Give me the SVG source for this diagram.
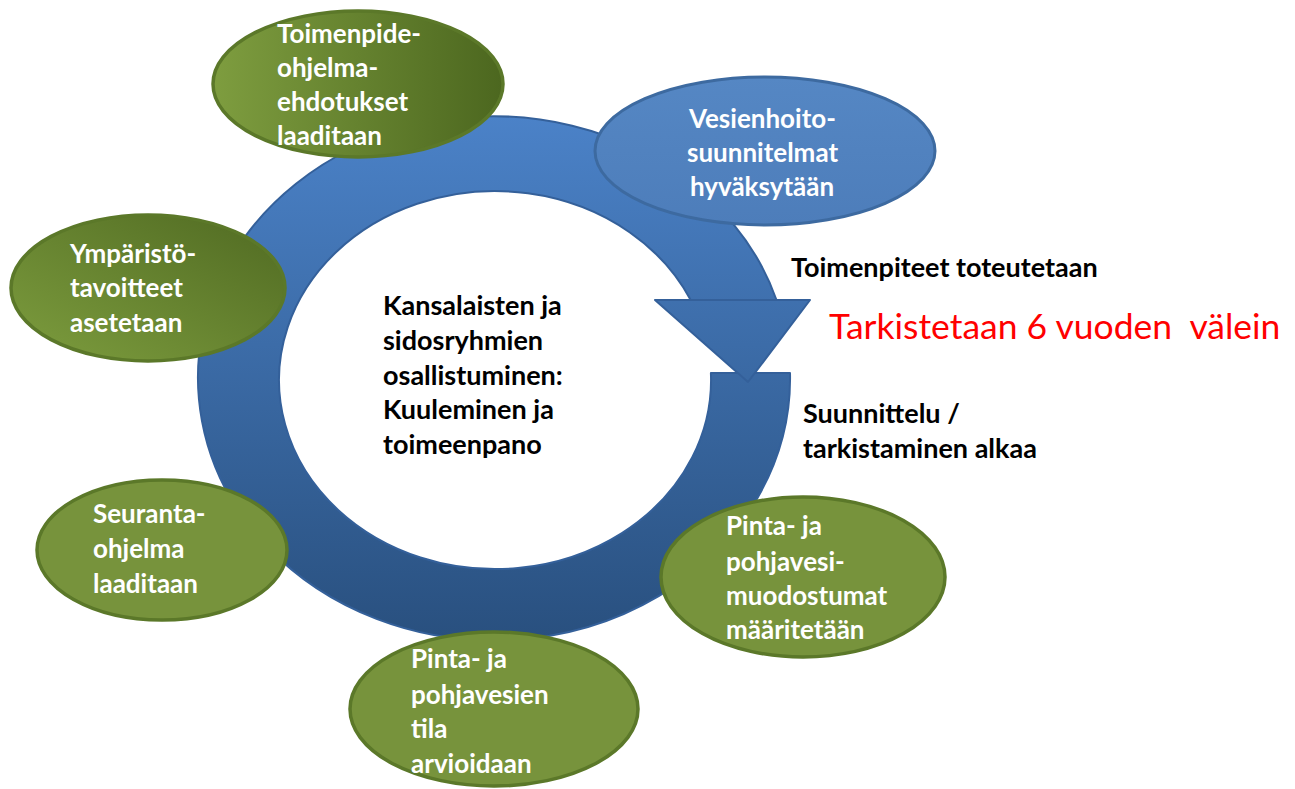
<svg xmlns="http://www.w3.org/2000/svg" width="1295" height="789" viewBox="0 0 1295 789">
<defs>
<linearGradient id="ringGrad" gradientUnits="userSpaceOnUse" x1="0" y1="115" x2="0" y2="638">
<stop offset="0" stop-color="#4b82c8"/>
<stop offset="1" stop-color="#29507f"/>
</linearGradient>
<linearGradient id="greenH" x1="0" y1="0" x2="1" y2="0">
<stop offset="0" stop-color="#7e9d3f"/>
<stop offset="1" stop-color="#4c671f"/>
</linearGradient>
<linearGradient id="greenD" x1="0" y1="1" x2="1" y2="0">
<stop offset="0" stop-color="#7d9d3e"/>
<stop offset="1" stop-color="#506a22"/>
</linearGradient>
<linearGradient id="blueE" x1="0" y1="0" x2="0" y2="1">
<stop offset="0" stop-color="#5587c4"/>
<stop offset="1" stop-color="#4d7dba"/>
</linearGradient>
</defs>
<style>
.ring{fill:url(#ringGrad);stroke:#34609a;stroke-width:2;stroke-linejoin:round}
.g{stroke:#5b7829;stroke-width:3.5}
.flat{fill:#77933c}
.b{fill:url(#blueE);stroke:#3d6aa0;stroke-width:3}
text{font-family:Lato,"Liberation Sans",sans-serif;font-weight:bold}
.w{fill:#ffffff;font-size:26px}
.k{fill:#000000;font-size:27px}
.red{fill:#ff0000;font-size:35.5px;font-weight:normal}
</style>
<rect width="1295" height="789" fill="#ffffff"/>
<g id="connectors">
<path class="ring" d="M790,373 A296,262 0 1 1 776.5,300 L690.7,300 A216,189 0 1 0 710.9,373 Z"/>
<path class="ring" d="M655,300 L810,300 L748,382 Z"/>
</g>
<g id="n-toimenpide">
<ellipse class="g" fill="url(#greenH)" cx="358" cy="84" rx="145" ry="73"/>
<text class="w" x="277" y="43">Toimenpide-</text>
<text class="w" x="277" y="77">ohjelma-</text>
<text class="w" x="277" y="111">ehdotukset</text>
<text class="w" x="277" y="145">laaditaan</text>
</g>
<g id="n-vesienhoito">
<ellipse class="b" cx="765" cy="151" rx="170" ry="74"/>
<text class="w" x="689" y="128">Vesienhoito-</text>
<text class="w" x="687" y="162">suunnitelmat</text>
<text class="w" x="690" y="196">hyväksytään</text>
</g>
<g id="n-ymparisto">
<ellipse class="g" fill="url(#greenD)" cx="148" cy="288" rx="137" ry="73"/>
<text class="w" x="70" y="263">Ympäristö-</text>
<text class="w" x="70" y="297">tavoitteet</text>
<text class="w" x="70" y="332">asetetaan</text>
</g>
<g id="n-seuranta">
<ellipse class="g flat" cx="162" cy="550" rx="125" ry="70"/>
<text class="w" x="93" y="523">Seuranta-</text>
<text class="w" x="93" y="558">ohjelma</text>
<text class="w" x="93" y="593">laaditaan</text>
</g>
<g id="n-tila">
<ellipse class="g flat" cx="494" cy="709" rx="144" ry="77"/>
<text class="w" x="411" y="668">Pinta- ja</text>
<text class="w" x="411" y="704">pohjavesien</text>
<text class="w" x="411" y="738">tila</text>
<text class="w" x="411" y="773">arvioidaan</text>
</g>
<g id="n-muodostumat">
<ellipse class="g flat" cx="803" cy="577" rx="142" ry="80"/>
<text class="w" x="726" y="535">Pinta- ja</text>
<text class="w" x="726" y="571">pohjavesi-</text>
<text class="w" x="726" y="605">muodostumat</text>
<text class="w" x="726" y="639">määritetään</text>
</g>
<g id="n-center">
<text class="k" x="383" y="315">Kansalaisten ja</text>
<text class="k" x="383" y="350">sidosryhmien</text>
<text class="k" x="383" y="385">osallistuminen:</text>
<text class="k" x="383" y="419">Kuuleminen ja</text>
<text class="k" x="383" y="454">toimeenpano</text>
</g>
<g id="labels">
<text class="k" x="791" y="277">Toimenpiteet toteutetaan</text>
<text class="red" x="829" y="339" xml:space="preserve">Tarkistetaan 6 vuoden  välein</text>
<text class="k" x="803" y="423">Suunnittelu /</text>
<text class="k" x="803" y="458">tarkistaminen alkaa</text>
</g>
</svg>
